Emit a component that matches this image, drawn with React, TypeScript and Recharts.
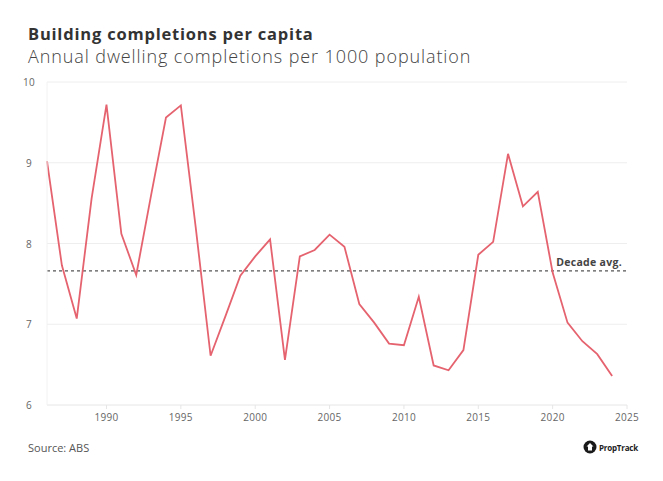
import { LineChart, Line, XAxis, YAxis, CartesianGrid, ReferenceLine } from 'recharts';

const years = [
  1986, 1987, 1988, 1989, 1990, 1991, 1992, 1993, 1994, 1995, 1996, 1997, 1998,
  1999, 2000, 2001, 2002, 2003, 2004, 2005, 2006, 2007, 2008, 2009, 2010, 2011,
  2012, 2013, 2014, 2015, 2016, 2017, 2018, 2019, 2020, 2021, 2022, 2023, 2024,
];
const completions = [
  9.02, 7.73, 7.07, 8.56, 9.72, 8.12, 7.61, 8.6, 9.56, 9.71, 8.2, 6.61, 7.1,
  7.6, 7.84, 8.05, 6.56, 7.84, 7.92, 8.11, 7.96, 7.25, 7.02, 6.76, 6.74, 7.34,
  6.49, 6.43, 6.68, 7.86, 8.02, 9.11, 8.46, 8.64, 7.64, 7.02, 6.79, 6.63, 6.36,
];
const decadeAvg = 7.66;
const xTicks = [1990, 1995, 2000, 2005, 2010, 2015, 2020, 2025];
const yTicks = [6, 7, 8, 9, 10];

const data = years.map((year, i) => ({ year, value: completions[i] }));

const FONT = '"Open Sans", "Noto Sans", sans-serif';

function YTick({ x, y, payload }: any) {
  return (
    <text x={x - 10} y={y} dy={4} textAnchor="middle" fontSize={10} fill="#666" fontFamily={FONT} letterSpacing={0.3}>
      {payload.value}
    </text>
  );
}

function AvgLabel({ viewBox }: any) {
  const { x, y, width } = viewBox;
  return (
    <text x={x + width - 5} y={y - 5} textAnchor="end" fontSize={10.5} fontWeight={700} fill="#444" fontFamily={FONT} letterSpacing={0.3}>
      Decade avg.
    </text>
  );
}

export default function App() {
  return (
    <div style={{ position: 'absolute', top: 0, left: 0, width: 663, height: 481, background: '#fff', fontFamily: FONT }}>
      <div style={{ position: 'absolute', left: 28, top: 24, fontSize: 16.5, fontWeight: 700, color: '#333', lineHeight: '20px', letterSpacing: 0.8 }}>
        Building completions per capita
      </div>
      <div style={{ position: 'absolute', left: 28, top: 45, fontSize: 18, fontWeight: 300, color: '#444', lineHeight: '22px', letterSpacing: 0.9 }}>
        Annual dwelling completions per 1000 population
      </div>

      <div style={{ position: 'absolute', left: 0, top: 0 }}>
        <LineChart width={663} height={481} data={data} margin={{ top: 82, right: 36, left: 17, bottom: 46 }}>
          <CartesianGrid vertical={false} stroke="#eeeeee" />
          <XAxis
            dataKey="year"
            type="number"
            domain={[1986, 2025]}
            ticks={xTicks}
            axisLine={{ stroke: '#eeeeee' }}
            tickLine={{ stroke: '#e6e6e6' }}
            tickSize={4}
            tickMargin={5}
            tick={{ fontSize: 10, fill: '#666', fontFamily: FONT, letterSpacing: 0.3 }}
            height={30}
          />
          <YAxis
            type="number"
            domain={[6, 10]}
            ticks={yTicks}
            axisLine={{ stroke: '#f2f2f2' }}
            tickLine={false}
            tick={<YTick />}
            width={30}
          />
          <ReferenceLine y={decadeAvg} stroke="#555" strokeDasharray="3 3" strokeWidth={1.2} label={<AvgLabel />} />
          <Line
            type="linear"
            dataKey="value"
            stroke="#e5636f"
            strokeWidth={1.8}
            dot={false}
            isAnimationActive={false}
          />
        </LineChart>
      </div>

      <div style={{ position: 'absolute', left: 28, top: 440, fontSize: 11, color: '#555' }}>Source: ABS</div>
      <div style={{ position: 'absolute', left: 583, top: 440, display: 'flex', alignItems: 'center', gap: 2 }}>
        <svg width={14} height={14} viewBox="0 0 14 14">
          <circle cx={7} cy={7} r={6.5} fill="#1a1a1a" />
          <path d="M7 3 L10.5 6.5 L9 6.5 L9 10.5 L5 10.5 L5 6.5 L3.5 6.5 Z" fill="#fff" />
        </svg>
        <span style={{ fontSize: 8, fontWeight: 700, color: '#222', letterSpacing: -0.2 }}>PropTrack</span>
      </div>
    </div>
  );
}
